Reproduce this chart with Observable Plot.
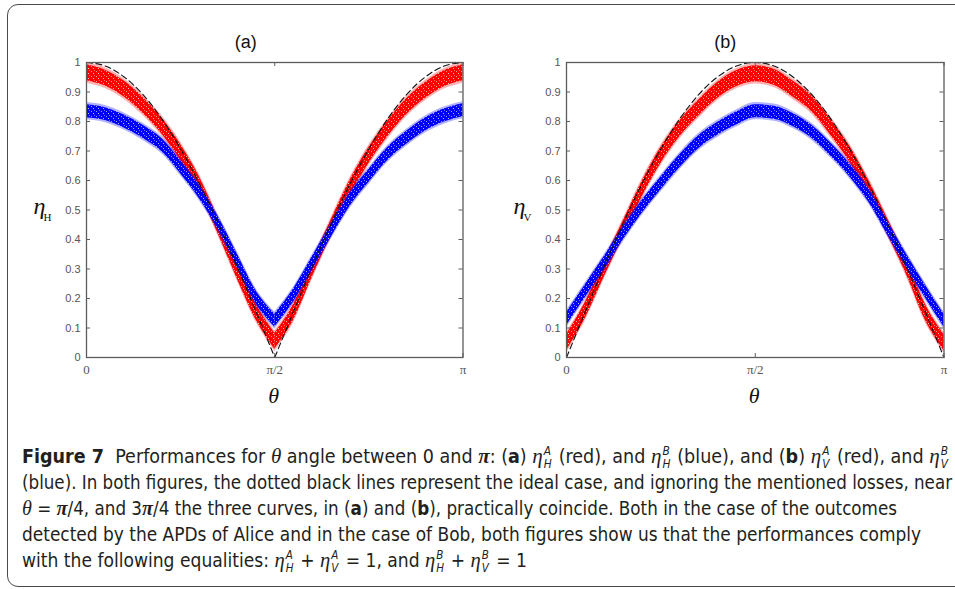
<!DOCTYPE html>
<html><head><meta charset="utf-8">
<script src="https://cdn.jsdelivr.net/npm/d3@7"></script>
<script src="https://cdn.jsdelivr.net/npm/@observablehq/plot@0.6"></script>
<style>
html,body{margin:0;padding:0;background:#fff;}
body{width:955px;height:589px;position:relative;overflow:hidden;}
#box{position:absolute;left:7px;top:4px;width:990px;height:583px;border:1.5px solid #4a4a4a;border-radius:11px;box-sizing:border-box;}
#pa{position:absolute;left:0;top:0;}
#pb{position:absolute;left:480px;top:0;}
#cap{position:absolute;left:22px;top:443px;font-family:"Liberation Sans Narrow","DejaVu Sans Condensed","Liberation Sans",sans-serif;font-size:19px;color:#231f20;}
.ln{position:absolute;left:0;display:inline-block;white-space:nowrap;transform-origin:0 50%;height:26px;line-height:26px;}
.m{font-family:"Liberation Serif","DejaVu Serif",serif;font-style:italic;font-size:1.08em;}
.ss{display:inline-block;position:relative;width:9px;height:15px;vertical-align:baseline;margin-right:1px;}
.ss span{position:absolute;left:1px;font-size:11.5px;line-height:11px;font-style:italic;}
.ss .sp{top:-2px;}
.ss .sb{top:11px;}
</style></head>
<body>
<svg width="0" height="0" style="position:absolute">
<defs>
<pattern id="spr" width="5" height="5" patternUnits="userSpaceOnUse">
<rect width="5" height="5" fill="#ff0000"/>
<rect x="1" y="1" width="1" height="1" fill="#ff9c9c"/>
<rect x="3" y="3" width="1" height="1" fill="#ffb8b8"/>
<rect x="4" y="0" width="1" height="1" fill="#ff6e6e"/>
</pattern>
<pattern id="spb" width="5" height="5" patternUnits="userSpaceOnUse">
<rect width="5" height="5" fill="#0000ff"/>
<rect x="1" y="1" width="1" height="1" fill="#9c9cff"/>
<rect x="3" y="3" width="1" height="1" fill="#b8b8ff"/>
<rect x="4" y="0" width="1" height="1" fill="#6e6eff"/>
</pattern>
</defs></svg>
<div id="box"></div>
<div id="pa"></div>
<div id="pb"></div>
<div id="cap"></div>
<script>
// ---- data (theta as a fraction of π) ----
const thetaFrac = [0,0.05,0.10,0.15,0.20,0.25,0.30,0.35,0.40,0.45,0.50,0.55,0.60,0.65,0.70,0.75,0.80,0.85,0.90,0.95,1];

// panel (a): eta_H
const idealA = [1,0.988,0.951,0.891,0.809,0.707,0.588,0.454,0.309,0.156,0,0.156,0.309,0.454,0.588,0.707,0.809,0.891,0.951,0.988,1];
const redA   = [0.965,0.947,0.910,0.855,0.785,0.695,0.585,0.445,0.295,0.155,0.055,0.153,0.300,0.440,0.575,0.685,0.775,0.850,0.905,0.945,0.965];
const blueA  = [0.835,0.825,0.800,0.765,0.720,0.645,0.560,0.455,0.330,0.205,0.125,0.210,0.320,0.430,0.535,0.615,0.690,0.745,0.790,0.820,0.838];

// panel (b): eta_V
const idealB = [0,0.156,0.309,0.454,0.588,0.707,0.809,0.891,0.951,0.988,1,0.988,0.951,0.891,0.809,0.707,0.588,0.454,0.309,0.156,0];
const redB   = [0.050,0.160,0.300,0.435,0.570,0.685,0.775,0.845,0.905,0.945,0.962,0.950,0.910,0.860,0.780,0.690,0.575,0.445,0.310,0.155,0.050];
const blueB  = [0.130,0.225,0.320,0.420,0.510,0.590,0.665,0.730,0.775,0.810,0.835,0.830,0.805,0.765,0.705,0.635,0.550,0.440,0.330,0.225,0.125];

// vertical spread (half width) of the measured point clouds
const redSpread = 0.027;
const blueSpread = 0.022;

const yTicks = [0,0.1,0.2,0.3,0.4,0.5,0.6,0.7,0.8,0.9,1];
const yTickLabels = ["0","0.1","0.2","0.3","0.4","0.5","0.6","0.7","0.8","0.9","1"];
const xTickFrac = [0,0.5,1];
const xTickLabels = ["0","π/2","π"];

// ---- build tables ----
function rows(values, spread, split) {
  const out = [];
  values.forEach((v, i) => {
    const f = thetaFrac[i];
    const base = {x: f * Math.PI, y: v, lo: v - spread, hi: v + spread};
    if (!split) { out.push({...base, half: "A"}); return; }
    if (f <= 0.5) out.push({...base, half: "L"});
    if (f >= 0.5) out.push({...base, half: "R"});
  });
  return out;
}

const serif = "Liberation Serif, DejaVu Serif, serif";
const sans = "Liberation Sans, Arial, sans-serif";

function panel(el, cfg) {
  const W = cfg.width, H = 420, mL = 86, mR = cfg.mR, mT = 62, mB = 63;
  const innerW = W - mL - mR, innerH = H - mT - mB;
  const red = rows(cfg.red, redSpread, cfg.split);
  const blue = rows(cfg.blue, blueSpread, cfg.split);
  const ideal = rows(cfg.ideal, 0, cfg.split);
  const xTicks = xTickFrac.map(f => f * Math.PI);
  const curve = "monotone-x";
  const frameCol = "#5c5c5c";
  const p = Plot.plot({
    width: W, height: H,
    marginLeft: mL, marginRight: mR, marginTop: mT, marginBottom: mB,
    x: {domain: [0, Math.PI]},
    y: {domain: [0, 1]},
    style: {background: "transparent", overflow: "visible", color: "#555"},
    marks: [
      Plot.areaY(red, {x: "x", y1: d => d.lo - 0.008, y2: d => d.hi + 0.008, z: "half", curve, fill: "#ff0000", fillOpacity: 0.3}),
      Plot.areaY(red, {x: "x", y1: "lo", y2: "hi", z: "half", curve, fill: "url(#spr)"}),
      Plot.areaY(blue, {x: "x", y1: d => d.lo - 0.007, y2: d => d.hi + 0.007, z: "half", curve, fill: "#0000ff", fillOpacity: 0.3}),
      Plot.areaY(blue, {x: "x", y1: "lo", y2: "hi", z: "half", curve, fill: "url(#spb)"}),
      Plot.line(ideal, {x: "x", y: "y", z: "half", curve, stroke: "#111", strokeWidth: 1.1, strokeDasharray: "6,3.5"}),
      Plot.frame({stroke: frameCol, strokeWidth: 1.3}),
      Plot.ruleY(yTicks, {stroke: frameCol, insetRight: innerW - 4}),
      Plot.ruleY(yTicks, {stroke: frameCol, insetLeft: innerW - 4}),
      Plot.ruleX(xTicks, {stroke: frameCol, insetTop: innerH - 4}),
      Plot.ruleX(xTicks, {stroke: frameCol, insetBottom: innerH - 4}),
      Plot.axisY({ticks: yTicks, tickSize: 0, tickPadding: 6, label: null,
        tickFormat: d => yTickLabels[yTicks.indexOf(d)], fontSize: 11, fontFamily: sans, fill: "#555"}),
      Plot.axisX({ticks: xTicks, tickSize: 0, tickPadding: 7, label: null,
        tickFormat: d => xTickLabels[xTicks.indexOf(d)], fontSize: 13, fontFamily: serif, fill: "#555"}),
      Plot.text([cfg.title], {frameAnchor: "top", dx: cfg.titleDx, dy: -27, fontSize: 18, fontFamily: sans, fill: "#111"}),
      Plot.text(["θ"], {frameAnchor: "bottom", dx: -1, dy: 45, fontSize: 22, fontStyle: "italic", fontFamily: serif, fill: "#111"}),
      Plot.text(["η"], {frameAnchor: "left", dx: -53, dy: -4, fontSize: 24, fontStyle: "italic", fontFamily: serif, fill: "#111"}),
      Plot.text([cfg.sub], {frameAnchor: "left", dx: -43, dy: 7, fontSize: 11, fontFamily: serif, fill: "#111"})
    ]
  });
  el.appendChild(p);
}

panel(document.getElementById("pa"), {width: 480, mR: 17.5, red: redA, blue: blueA, ideal: idealA, split: true, title: "(a)", titleDx: -29, sub: "H"});
panel(document.getElementById("pb"), {width: 475, mR: 11.5, red: redB, blue: blueB, ideal: idealB, split: false, title: "(b)", titleDx: -30, sub: "V"});

// ---- caption ----
function eta(sub, sup) {
  return `<span class="m">η</span><span class="ss"><span class="sp">${sup}</span><span class="sb">${sub}</span></span>`;
}
const th = `<span class="m">θ</span>`;
const pi = `<span class="m" style="font-weight:bold">π</span>`;
const capLines = [
  `<b>Figure 7</b>&nbsp; Performances for ${th} angle between 0 and ${pi}: (<b>a</b>) ${eta("H","A")} (red), and ${eta("H","B")} (blue), and (<b>b</b>) ${eta("V","A")} (red), and ${eta("V","B")}`,
  `(blue). In both figures, the dotted black lines represent the ideal case, and ignoring the mentioned losses, near`,
  `${th} = ${pi}/4, and 3${pi}/4 the three curves, in (<b>a</b>) and (<b>b</b>), practically coincide. Both in the case of the outcomes`,
  `detected by the APDs of Alice and in the case of Bob, both figures show us that the performances comply`,
  `with the following equalities: ${eta("H","A")} + ${eta("V","A")} = 1, and ${eta("H","B")} + ${eta("V","B")} = 1`
];
const capWidths = [928, 930, 875, 899, 505];
const cap = document.getElementById("cap");
capLines.forEach((html, i) => {
  const d = document.createElement("div");
  d.className = "ln";
  d.style.top = (i * 26) + "px";
  d.innerHTML = html;
  cap.appendChild(d);
  const w = d.getBoundingClientRect().width;
  d.style.transform = `scaleX(${capWidths[i] / w})`;
});
</script>
</body></html>
